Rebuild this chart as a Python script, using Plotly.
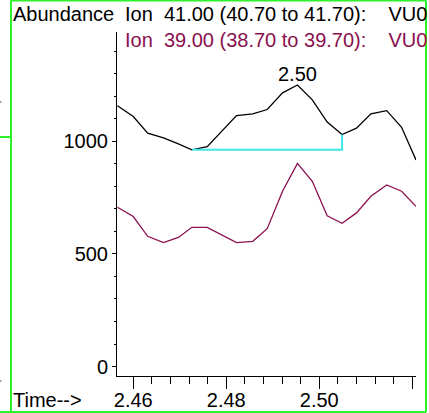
import plotly.graph_objects as go

# scan times (min)
czas = [2.4566, 2.4600, 2.4631, 2.4665, 2.4697, 2.4726, 2.4759, 2.4790, 2.4822, 2.4857,
        2.4888, 2.4921, 2.4953, 2.4985, 2.5017, 2.5049, 2.5080, 2.5111, 2.5145, 2.5177, 2.5208]
ion41 = [1158, 1110, 1036, 1015, 988, 962, 976, 1045, 1114, 1122,
         1141, 1215, 1250, 1184, 1085, 1030, 1058, 1122, 1136, 1062, 917]
ion39 = [707, 666, 578, 550, 573, 618, 618, 586, 550, 556,
         612, 778, 902, 822, 669, 636, 682, 756, 806, 778, 711]

x_ticks = [2.46, 2.48, 2.50, 2.52]
x_labels = ["2.46", "2.48", "2.50", ""]
y_ticks = [0, 500, 1000]
y_labels = ["0", "500", "1000"]

tytul1 = "Ion\u00a0\u00a041.00 (40.70 to 41.70):\u00a0\u00a0\u00a0\u00a0VU0"
tytul2 = "Ion\u00a0\u00a039.00 (38.70 to 39.70):\u00a0\u00a0\u00a0\u00a0VU0"

# integration baseline: start and end scan index
start, stop = 5, 15
peak = 12

W, H = 429, 413
L, R, T, B = 117, 13, 32, 37
pw, ph = W - L - R, H - T - B


def px(x):
    return (x - L) / pw


def py(y):
    return (H - B - y) / ph


fiolet = "#8a1050"
zielony = "#2cf22c"
font = "Liberation Sans, Arial, sans-serif"

fig = go.Figure()
fig.add_trace(go.Scatter(x=czas, y=ion39, mode="lines", line=dict(color=fiolet, width=1.3)))
fig.add_trace(go.Scatter(x=czas, y=ion41, mode="lines", line=dict(color="black", width=1.3)))
fig.add_trace(go.Scatter(x=[czas[start], czas[stop], czas[stop]],
                         y=[ion41[start], ion41[start], ion41[stop]],
                         mode="lines", line=dict(color="#40e8e8", width=2)))

fig.add_annotation(x=czas[peak], y=ion41[peak], text=f"{czas[peak]:.2f}", showarrow=False,
                   yanchor="bottom", yshift=-2, font=dict(size=20, color="black"))
fig.add_annotation(x=px(11), y=py(14), xref="paper", yref="paper", text="Abundance",
                   showarrow=False, xanchor="left", yanchor="middle",
                   font=dict(size=20, color="black"))
fig.add_annotation(x=px(123), y=py(14), xref="paper", yref="paper", text=tytul1,
                   showarrow=False, xanchor="left", yanchor="middle",
                   font=dict(size=20, color="black"))
fig.add_annotation(x=px(123), y=py(40), xref="paper", yref="paper", text=tytul2,
                   showarrow=False, xanchor="left", yanchor="middle",
                   font=dict(size=20, color=fiolet))
fig.add_annotation(x=px(11), y=py(400), xref="paper", yref="paper", text="Time-->",
                   showarrow=False, xanchor="left", yanchor="middle",
                   font=dict(size=20, color="black"))

# green frame of the panel and bits of the neighbouring one
ramka = [
    (11, 0.5, 426, 0.5), (11, 0.5, 11, 412), (426, 0.5, 426, 412),
    (0, 412, 426, 412), (0, 137, 11, 137),
]
for x0, y0, x1, y1 in ramka:
    fig.add_shape(type="line", xref="paper", yref="paper",
                  x0=px(x0), y0=py(y0), x1=px(x1), y1=py(y1),
                  line=dict(color=zielony, width=2))
for yy in [102, 381]:
    fig.add_shape(type="line", xref="paper", yref="paper",
                  x0=px(0), y0=py(yy), x1=px(1.5), y1=py(yy),
                  line=dict(color="#444444", width=1))

fig.update_layout(
    width=W, height=H,
    margin=dict(l=L, r=R, t=T, b=B, pad=0, autoexpand=False),
    paper_bgcolor="white", plot_bgcolor="white",
    showlegend=False,
    font=dict(family=font, size=20, color="black"),
    xaxis=dict(range=[2.4565, 2.5208], tickvals=x_ticks, ticktext=x_labels, automargin=False,
               ticks="outside", ticklen=12, tickcolor="black", tickwidth=1, ticklabelstandoff=-6,
               showline=True, linecolor="black", linewidth=1, showgrid=False, zeroline=False,
               minor=dict(dtick=0.004, ticks="outside", ticklen=7, tickcolor="black", showgrid=False)),
    yaxis=dict(range=[-42, 1485], tickvals=y_ticks, ticktext=y_labels, automargin=False,
               ticks="outside", ticklen=4, tickcolor="black", tickwidth=1,
               showline=True, linecolor="black", linewidth=1, showgrid=False, zeroline=False,
               minor=dict(dtick=100, ticks="outside", ticklen=2, tickcolor="black", showgrid=False)),
)

# the page body has a default 8px margin, drop it so the figure sits at 0,0
fig.write_html("out.html", config={"displayModeBar": False},
               post_script="document.body.style.margin='0px';")
